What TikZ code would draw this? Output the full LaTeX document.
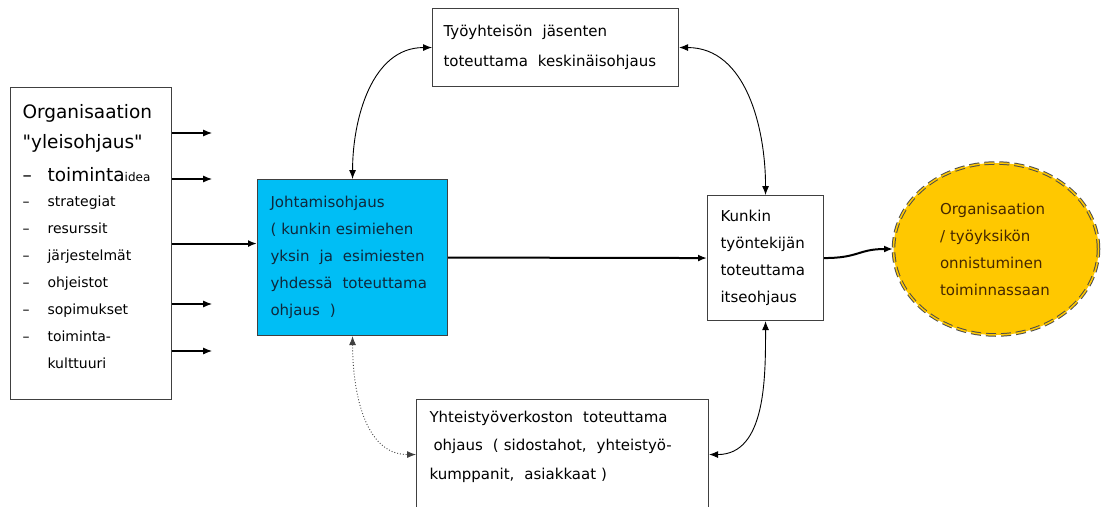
\documentclass[tikz,border=0pt]{standalone}
\usepackage{fontspec}
\setmainfont{DejaVu Sans}[Ligatures=TeXOff]
\usetikzlibrary{calc}
\usetikzlibrary{arrows.meta}
\usetikzlibrary{shapes.geometric}

\definecolor{johtoblue}{RGB}{0,190,245}
\definecolor{johtotext}{RGB}{15,40,60}
\definecolor{tulosgold}{RGB}{255,200,0}
\definecolor{tulostext}{RGB}{70,40,0}
\newcommand{\kohta}{\makebox[25pt][l]{–}}

\begin{document}
\begin{tikzpicture}[x=1pt, y=-1pt,
    >={Latex[length=9pt, width=7pt]},
    box/.style={draw=black!75, line width=1.1pt, rectangle, align=left,
      anchor=north west, inner sep=0pt, font=\fontsize{15}{27}\selectfont}]
  \useasboundingbox (0, 0) rectangle (1102, 506);
  \clip (0, 0) rectangle (1102, 506);
  \fill[white] (0, 0) rectangle (1102, 506);

  \node[box, minimum width=161, minimum height=312, text width=137,
        font=\fontsize{14}{27}\selectfont] (org) at (10, 87) {
    {\fontsize{18.5}{22}\selectfont Organisaation}\\[3pt]
    {\fontsize{18.5}{22}\selectfont "yleisohjaus"}\\[6pt]
    {\fontsize{18.5}{22}\selectfont\kohta toiminta}{\fontsize{12}{14}\selectfont idea}\\[-2pt]
    \kohta strategiat\\
    \kohta resurssit\\
    \kohta järjestelmät\\
    \kohta ohjeistot\\
    \kohta sopimukset\\
    \kohta toiminta-\\
    \hspace*{25pt}kulttuuri\rule[-15pt]{0pt}{15pt}};
  \node[box, fill=johtoblue, text=johtotext, minimum width=190,
        minimum height=156, text width=164] (johto) at (257, 179)
    {Johtamisohjaus\\( kunkin esimiehen\\yksin~ ja~ esimiesten\\
     yhdessä~ toteuttama\\ohjaus~ )};
  \node[box, minimum width=246, minimum height=78, text width=224]
    (yhteiso) at (432, 8)
    {Työyhteisön~ jäsenten\\[3pt]toteuttama~ keskinäisohjaus};
  \node[box, minimum width=116, minimum height=125, text width=90]
    (kunkin) at (707, 195)
    {Kunkin\\työntekijän\\toteuttama\\itseohjaus};
  \node[box, minimum width=292, minimum height=110, text width=266]
    (verkosto) at (416, 399)
    {\parbox[t][86pt][t]{266pt}{Yhteistyöverkoston~ toteuttama\\[1pt]
     \hspace*{4pt}ohjaus~ ( sidostahot,~ yhteistyö-\\[2pt]
     kumppanit,~ asiakkaat )}};
  \node[ellipse, draw=black!70, line width=1pt, fill=tulosgold,
        double=tulosgold, double distance=1.5pt, dash pattern=on 10pt off 5pt,
        minimum width=205, minimum height=172, text width=112, align=left,
        text=tulostext, font=\fontsize{15}{27}\selectfont] (tulos) at (996, 249)
    {Organisaation\\/ työyksikön\\onnistuminen\\toiminnassaan};

  \foreach \y in {133, 179, 304, 351}{
    \draw[->, line width=1.1pt] ($(org.north east) + (0, \y - 87)$) -- +(40, 0);
  }
  \draw[->, line width=2pt] (org.east) -- (org.east -| johto.west);
  \draw[->, line width=2pt] (johto.east) -- (kunkin.west);
  \draw[->, line width=2pt] (kunkin.east) .. controls +(35, 0) and +(-35, 0) .. (tulos.west);

  \draw[<->, line width=0.9pt] (yhteiso.west) to[out=180, in=90] (johto.north);
  \draw[<->, line width=0.9pt] (yhteiso.east) to[out=0, in=90] (kunkin.north);
  \draw[<->, line width=0.9pt] (kunkin.south) to[out=-90, in=0] (verkosto.east);
  \draw[<->, line width=0.9pt, black!75, dotted] (johto.south) to[out=-90, in=180] (verkosto.west);
\end{tikzpicture}
\end{document}
